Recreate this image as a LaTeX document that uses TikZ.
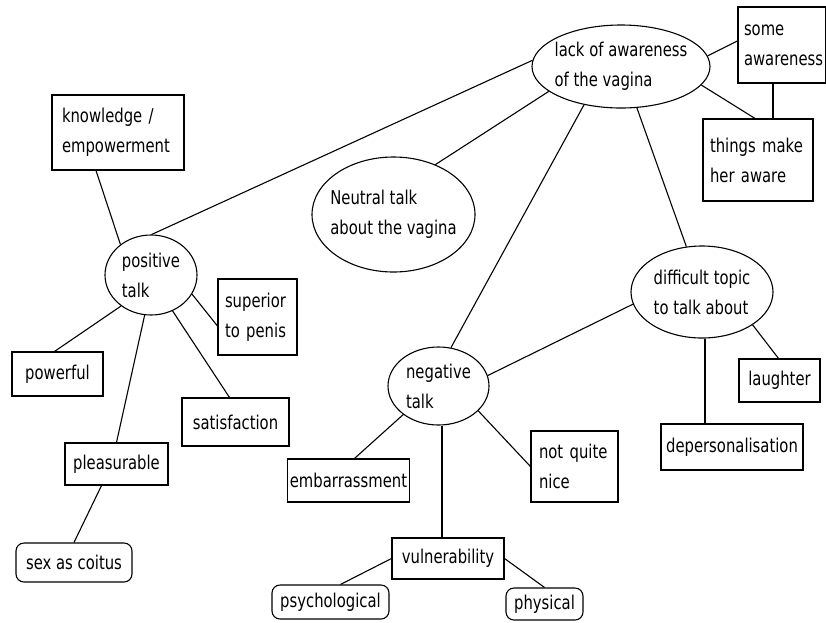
\documentclass[tikz,border=0pt]{standalone}
\usepackage{fontspec}
\setmainfont[FakeStretch=0.78]{DejaVu Sans}
\usetikzlibrary{shapes.geometric}
\tikzset{
  every node/.style={font=\fontsize{19}{30}\selectfont, text=black},
  box/.style={draw, line width=1.1pt, rectangle, inner ysep=0pt, align=left},
  rbox/.style={box, rounded corners=8pt},
  oval/.style={draw, line width=1.1pt, ellipse, inner sep=-40pt, align=left},
  link/.style={line width=1.1pt}
}
\begin{document}
\begin{tikzpicture}[x=1pt,y=-1pt]
\useasboundingbox[fill=white] (0,0) rectangle (826,622);
% ellipses
\node[oval, minimum width=178, minimum height=83] (lack) at (621,66.5) {lack of awareness\\of the vagina};
\node[oval, minimum width=163, minimum height=115] (neutral) at (393.5,214.5) {Neutral talk\\about the vagina};
\node[oval, minimum width=92, minimum height=80] (pos) at (151,275) {positive\\talk};
\node[oval, minimum width=142, minimum height=92] (diff) at (702,292) {difficult topic\\to talk about};
\node[oval, minimum width=101, minimum height=78] (neg) at (438.5,386) {negative\\talk};
% boxes
\node[box, minimum height=76, text width=76, inner xsep=6] (some) at (782,45) {some\\awareness};
\node[box, minimum height=82, text width=96, inner xsep=7] (things) at (758,160) {things make\\her aware};
\node[box, minimum height=75, text width=112, inner xsep=10] (know) at (118,132.5) {knowledge /\\empowerment};
\node[box, minimum height=76, text width=65, inner xsep=7] (sup) at (257.5,317) {superior\\to penis};
\node[box, minimum height=44, minimum width=91, align=center] (powerful) at (57.5,374) {powerful};
\node[box, minimum height=48, minimum width=107, align=center] (sat) at (235.5,422) {satisfaction};
\node[box, minimum height=42, minimum width=103, align=center] (pleas) at (116.5,464) {pleasurable};
\node[rbox, minimum height=39, minimum width=116, align=center] (sex) at (74,562.5) {sex as coitus};
\node[box, minimum height=43, minimum width=81, align=center] (laugh) at (779.5,380.5) {laughter};
\node[box, minimum height=46, minimum width=142, align=center] (depers) at (732,447) {depersonalisation};
\node[box, minimum height=71, text width=71, inner xsep=8] (notq) at (574.5,466.5) {not quite\\nice};
\node[box, minimum height=43, minimum width=121, inner xsep=2, align=center] (emb) at (348.5,480.5) {embarrassment};
\node[box, minimum height=41, minimum width=112, align=center] (vul) at (448,558.5) {vulnerability};
\node[rbox, minimum height=34, minimum width=117, inner xsep=2, align=center] (psych) at (330.5,602) {psychological};
\node[rbox, minimum height=32, minimum width=77, align=center] (phys) at (544.5,604) {physical};
% connectors
\draw[link] (pos.89) -- (lack.176);
\draw[link] (neutral.50) -- (lack.199);
\draw[link] (neg.72) -- (lack.226);
\draw[link] (diff.109) -- (lack.291);
\draw[link] (lack.7) -- ([yshift=4]some.west);
\draw[link] (lack.347) -- ([xshift=-3]things.north);
\draw[link] ([xshift=-9]some.south) -- ([xshift=-9]some.south |- things.north);
\draw[link] ([xshift=-22]know.south) -- (pos.135);
\draw[link] (pos.226) -- ([xshift=-3]powerful.north);
\draw[link] (pos.261) -- (pleas.north);
\draw[link] (pos.301) -- ([xshift=-6]sat.north);
\draw[link] (pos.335) -- ([yshift=-9]sup.west);
\draw[link] ([xshift=-15]pleas.south) -- (sex.north);
\draw[link] (diff.190) -- (neg.12);
\draw[link] ([xshift=3]diff.south) -- ([xshift=3]diff.south |- depers.north);
\draw[link] (diff.327) -- ([xshift=-1]laugh.north);
\draw[link] (neg.219) -- ([xshift=6]emb.north);
\draw[link] ([xshift=3.5]neg.south) -- ([xshift=3.5]neg.south |- vul.north);
\draw[link] (neg.328) -- (notq.west);
\draw[link] (vul.west) -- ([xshift=10]psych.north);
\draw[link] (vul.east) -- (phys.north);
\end{tikzpicture}
\end{document}
